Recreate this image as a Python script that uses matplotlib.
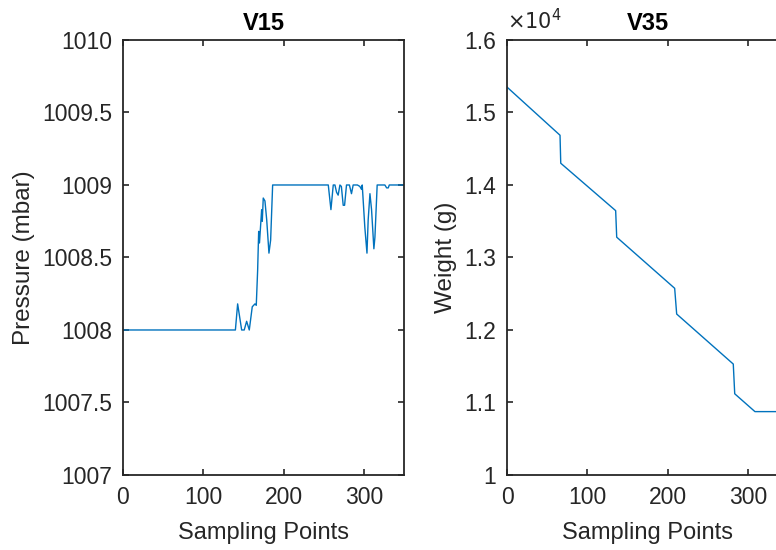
import matplotlib
matplotlib.use("Agg")
import matplotlib.pyplot as plt
from matplotlib.ticker import FuncFormatter

plt.rcParams['font.family'] = ['Liberation Sans', 'DejaVu Sans']

# V15 pressure trace (breakpoints of the recorded signal)
v15_x = [0, 140, 142.8, 147.8, 151, 154, 157.3, 161, 164.4, 166, 167.7, 169, 170, 172.7,
         173.5, 174.7, 176.8, 179, 181.8, 183.9, 186.4, 255.7, 259, 261.9, 264, 266,
         268, 270.2, 272, 274.3, 276, 278.4, 282, 284.6, 286.7, 292, 295, 297.1, 298,
         301.2, 303.9, 305.4, 307.6, 309.6, 312.5, 313.8, 316.6, 326.2, 328.4, 330.4,
         331.7, 350]
v15_y = [1008, 1008, 1008.18, 1008, 1008, 1008.06, 1008, 1008.16, 1008.18, 1008.17,
         1008.41, 1008.68, 1008.6, 1008.83, 1008.75, 1008.91, 1008.89, 1008.76, 1008.53,
         1008.62, 1009, 1009, 1008.83, 1009, 1009, 1008.95, 1008.93, 1009, 1008.99,
         1008.86, 1008.86, 1009, 1009, 1008.94, 1009, 1009, 1008.99, 1008.97, 1009,
         1008.71, 1008.53, 1008.76, 1008.94, 1008.83, 1008.56, 1008.64, 1009, 1009,
         1008.98, 1008.98, 1009, 1009]

# V35 weight trace in grams
v35_x = [0, 66, 66.9, 135.3, 136.6, 208.8, 211.3, 281.8, 283.6, 308.8, 350]
v35_y = [15350, 14686, 14300, 13646, 13280, 12575, 12220, 11530, 11120, 10874, 10874]

line_color = '#0072BD'
axis_color = '#262626'

fig = plt.figure(figsize=(7.76, 5.5), dpi=100)
ax1 = fig.add_axes([0.1585, 0.1364, 0.3621, 0.7909])
ax2 = fig.add_axes([0.6534, 0.1364, 0.3621, 0.7909])


def style(ax):
    for s in ax.spines.values():
        s.set_color(axis_color)
        s.set_linewidth(1.3)
    ax.tick_params(direction='in', length=4.5, width=1.2, colors=axis_color,
                   labelsize=16.5, top=True, right=True, pad=8)


ax1.plot(v15_x, v15_y, color=line_color, lw=1.0)
ax1.set_xlim(0, 350)
ax1.set_ylim(1007, 1010)
ax1.set_xticks([0, 100, 200, 300])
ax1.set_yticks([1007, 1007.5, 1008, 1008.5, 1009, 1009.5, 1010])
ax1.yaxis.set_major_formatter(FuncFormatter(lambda v, p: f'{v:g}'))
ax1.set_title('V15', fontsize=17, fontweight='bold', pad=7)
ax1.set_xlabel('Sampling Points', fontsize=17, color=axis_color, labelpad=9)
ax1.set_ylabel('Pressure (mbar)', fontsize=17.5, color=axis_color, labelpad=5)
style(ax1)

ax2.plot(v35_x, v35_y, color=line_color, lw=1.0)
ax2.set_xlim(0, 350)
ax2.set_ylim(10000, 16000)
ax2.set_xticks([0, 100, 200, 300])
ax2.set_yticks([10000, 11000, 12000, 13000, 14000, 15000, 16000])
ax2.yaxis.set_major_formatter(FuncFormatter(lambda v, p: f'{v / 1e4:g}'))
ax2.set_title('V35', fontsize=17, fontweight='bold', pad=7)
ax2.set_xlabel('Sampling Points', fontsize=17, color=axis_color, labelpad=9)
ax2.set_ylabel('Weight (g)', fontsize=17.5, color=axis_color, labelpad=5)
ax2.text(0.0, 1.015, r'$\times10^{4}$', transform=ax2.transAxes, fontsize=15,
         color=axis_color, ha='left', va='bottom')
style(ax2)

fig.savefig('out.png', dpi=100)
